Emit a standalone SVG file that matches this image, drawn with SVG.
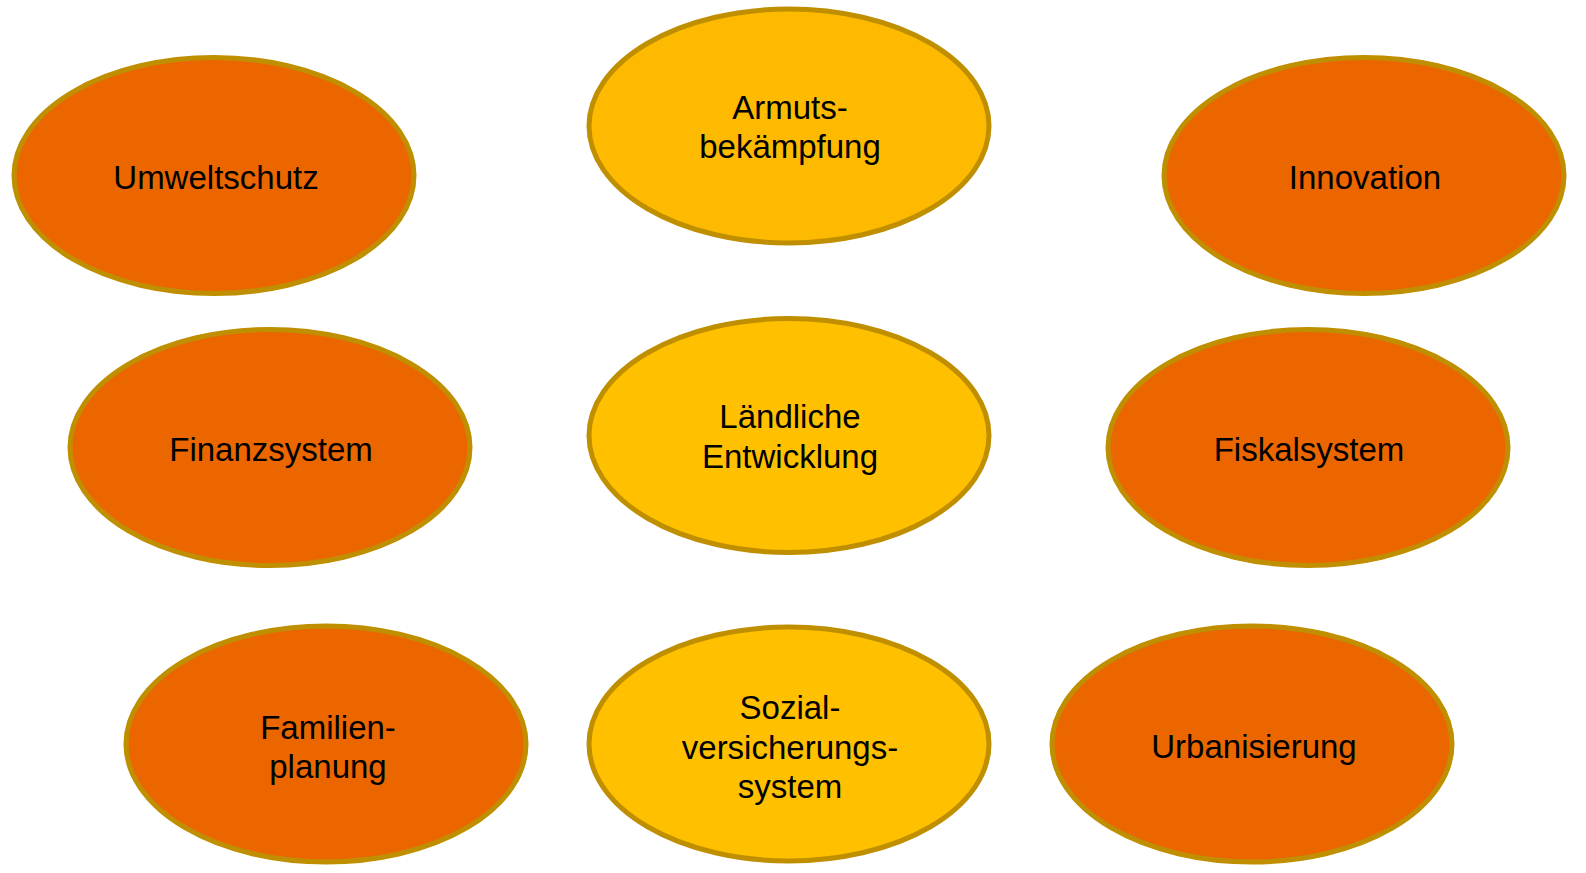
<svg xmlns="http://www.w3.org/2000/svg" width="1586" height="873" viewBox="0 0 1586 873">
<style>
.o{fill:#EC6600;stroke:#BF8F00;stroke-width:5}
.y{fill:#FFC000;stroke:#BF8F00;stroke-width:5}
.y2{fill:#FDBA00;stroke:#BF8F00;stroke-width:5}
text{font-family:"Liberation Sans",Arial,sans-serif;font-size:33px;fill:#000;text-anchor:middle}
</style>
<rect width="1586" height="873" fill="#fff"/>
<g id="connectors"></g>
<g id="armut"><ellipse class="y2" cx="789" cy="126" rx="200" ry="117"/><text x="790" y="119">Armuts-</text><text x="790" y="158">bekämpfung</text></g>
<g id="umwelt"><ellipse class="o" cx="214" cy="175.5" rx="200" ry="118"/><text x="216" y="189">Umweltschutz</text></g>
<g id="innovation"><ellipse class="o" cx="1364" cy="175.5" rx="200" ry="118"/><text x="1365" y="189">Innovation</text></g>
<g id="finanz"><ellipse class="o" cx="270" cy="447.5" rx="200" ry="118"/><text x="271" y="461">Finanzsystem</text></g>
<g id="laendlich"><ellipse class="y" cx="789" cy="435.5" rx="200" ry="117"/><text x="790" y="428">Ländliche</text><text x="790" y="468">Entwicklung</text></g>
<g id="fiskal"><ellipse class="o" cx="1308" cy="447.5" rx="200" ry="118"/><text x="1309" y="461">Fiskalsystem</text></g>
<g id="familie"><ellipse class="o" cx="326" cy="744" rx="200" ry="118"/><text x="328" y="739">Familien-</text><text x="328" y="778">planung</text></g>
<g id="sozial"><ellipse class="y" cx="789" cy="744" rx="200" ry="117"/><text x="790" y="719">Sozial-</text><text x="790" y="759">versicherungs-</text><text x="790" y="798">system</text></g>
<g id="urban"><ellipse class="o" cx="1252" cy="744" rx="200" ry="118"/><text x="1254" y="758">Urbanisierung</text></g>
</svg>
